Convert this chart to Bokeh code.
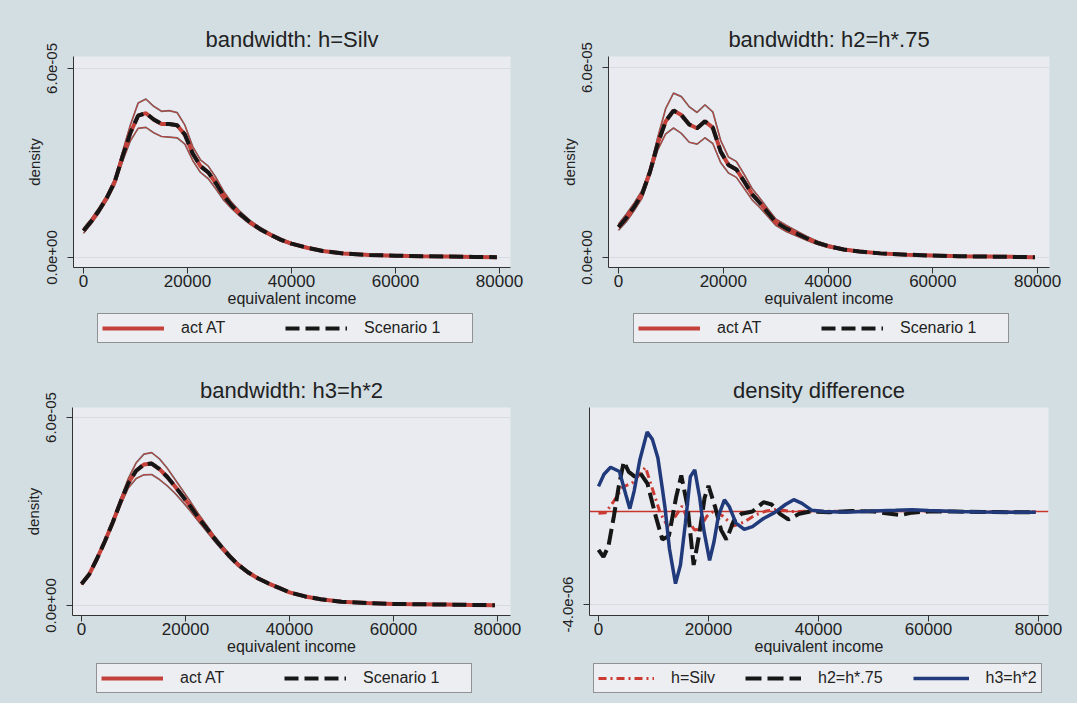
import numpy as np
from bokeh.plotting import figure
from bokeh.models import Range1d, FixedTicker, Legend, LegendItem
from bokeh.layouts import row, column
from bokeh.embed import file_html
from bokeh.resources import INLINE

# ---------------- data (densities in units of 1e-5, differences in 1e-6) ----------------
income = [0, 1500, 3000, 4500, 6000, 7500, 9000, 10500, 12000, 13500, 15000, 16500, 18000,
          19500, 21000, 22500, 24000, 25500, 27000, 28500, 30000, 32000, 34000, 36000, 38000,
          40000, 43000, 46000, 50000, 55000, 60000, 65000, 70000, 75000, 79500]

silv_act = [0.85, 1.15, 1.5, 1.9, 2.4, 3.2, 3.95, 4.5, 4.58, 4.38, 4.24, 4.24, 4.2, 3.9, 3.3, 2.9, 2.7,
            2.35, 1.95, 1.65, 1.4, 1.12, 0.9, 0.72, 0.56, 0.44, 0.31, 0.21, 0.13, 0.08, 0.06, 0.04, 0.03, 0.02, 0.01]
silv_scen = [0.85, 1.15, 1.5, 1.9, 2.4, 3.2, 3.95, 4.5, 4.58, 4.38, 4.24, 4.24, 4.2, 3.9, 3.3, 2.9, 2.7,
             2.35, 1.95, 1.65, 1.4, 1.12, 0.9, 0.72, 0.56, 0.44, 0.31, 0.21, 0.13, 0.08, 0.06, 0.04, 0.03, 0.02, 0.01]
silv_hi = [0.93, 1.23, 1.58, 1.98, 2.5, 3.35, 4.2, 4.9, 5.03, 4.8, 4.64, 4.66, 4.6, 4.2, 3.52, 3.1, 2.9,
           2.53, 2.09, 1.75, 1.48, 1.18, 0.95, 0.76, 0.6, 0.47, 0.33, 0.23, 0.14, 0.09, 0.07, 0.05, 0.04, 0.03, 0.02]
silv_lo = [0.77, 1.07, 1.42, 1.82, 2.3, 3.05, 3.7, 4.1, 4.13, 3.96, 3.84, 3.82, 3.8, 3.6, 3.08, 2.7, 2.5,
           2.17, 1.81, 1.55, 1.32, 1.06, 0.85, 0.68, 0.52, 0.41, 0.29, 0.19, 0.12, 0.07, 0.05, 0.03, 0.02, 0.01, 0.0]

h2_act = [0.96, 1.25, 1.6, 2.0, 2.7, 3.6, 4.3, 4.64, 4.5, 4.2, 4.08, 4.3, 4.1, 3.35, 2.92, 2.78, 2.4,
          2.0, 1.72, 1.42, 1.12, 0.92, 0.76, 0.6, 0.46, 0.36, 0.25, 0.19, 0.13, 0.09, 0.06, 0.04, 0.03, 0.02, 0.01]
h2_scen = [0.96, 1.25, 1.6, 2.0, 2.7, 3.6, 4.3, 4.64, 4.5, 4.2, 4.08, 4.3, 4.1, 3.35, 2.92, 2.78, 2.4,
           2.0, 1.72, 1.42, 1.12, 0.92, 0.76, 0.6, 0.46, 0.36, 0.25, 0.19, 0.13, 0.09, 0.06, 0.04, 0.03, 0.02, 0.01]
h2_hi = [1.06, 1.37, 1.72, 2.12, 2.8, 3.8, 4.7, 5.19, 5.08, 4.76, 4.58, 4.82, 4.6, 3.7, 3.17, 3.03, 2.62,
         2.18, 1.87, 1.54, 1.22, 1.02, 0.84, 0.66, 0.51, 0.4, 0.28, 0.21, 0.15, 0.1, 0.07, 0.05, 0.04, 0.03, 0.02]
h2_lo = [0.86, 1.13, 1.48, 1.88, 2.6, 3.4, 3.9, 4.09, 3.92, 3.64, 3.58, 3.78, 3.6, 3.0, 2.67, 2.53, 2.18,
         1.82, 1.57, 1.3, 1.02, 0.82, 0.68, 0.54, 0.41, 0.32, 0.22, 0.17, 0.11, 0.08, 0.05, 0.03, 0.02, 0.01, 0.0]

h3_act = [0.69, 1.0, 1.5, 2.05, 2.65, 3.3, 3.9, 4.3, 4.5, 4.53, 4.35, 4.1, 3.8, 3.48, 3.15, 2.8, 2.48,
          2.15, 1.85, 1.57, 1.32, 1.06, 0.86, 0.7, 0.56, 0.42, 0.29, 0.2, 0.12, 0.08, 0.05, 0.04, 0.03, 0.02, 0.01]
h3_scen = [0.69, 1.0, 1.5, 2.05, 2.65, 3.3, 3.9, 4.3, 4.5, 4.53, 4.35, 4.1, 3.8, 3.48, 3.15, 2.8, 2.48,
           2.15, 1.85, 1.57, 1.32, 1.06, 0.86, 0.7, 0.56, 0.42, 0.29, 0.2, 0.12, 0.08, 0.05, 0.04, 0.03, 0.02, 0.01]
h3_hi = [0.72, 1.03, 1.54, 2.1, 2.72, 3.4, 4.05, 4.55, 4.83, 4.88, 4.68, 4.38, 4.02, 3.66, 3.3, 2.92, 2.58,
         2.23, 1.92, 1.63, 1.37, 1.1, 0.89, 0.73, 0.58, 0.44, 0.31, 0.21, 0.13, 0.09, 0.06, 0.05, 0.04, 0.03, 0.02]
h3_lo = [0.66, 0.97, 1.46, 2.0, 2.58, 3.2, 3.75, 4.05, 4.17, 4.18, 4.02, 3.82, 3.58, 3.3, 3.0, 2.68, 2.38,
         2.07, 1.78, 1.51, 1.27, 1.02, 0.83, 0.67, 0.54, 0.4, 0.27, 0.19, 0.11, 0.07, 0.04, 0.03, 0.02, 0.01, 0.0]

diff_silv_x = [0, 1300, 2800, 4400, 6100, 7300, 8550, 9700, 11200, 12600, 14000, 15200, 16300, 17500,
               18300, 19700, 21000, 22600, 24600, 26500, 28500, 30500, 32500, 35000, 40000, 45000, 50000,
               55000, 60000, 65000, 70000, 75000, 79500]
diff_silv = [-0.08, -0.05, 0.45, 1.05, 1.22, 1.55, 1.9, 1.05, -0.05, -0.65, -0.2, 0.23, -0.4, -0.8,
             -0.75, -0.2, 0.03, -0.2, -0.62, -0.45, -0.15, 0.02, 0.1, 0.0, 0.02, 0.0, 0.02, 0.03, 0.02,
             0.0, -0.01, -0.02, -0.02]

diff_h2_x = [0, 900, 1800, 2800, 3700, 4600, 5500, 6600, 7600, 8900, 10400, 11600, 12800, 14100, 15050,
             16200, 17300, 18300, 19300, 20000, 21200, 22300, 23250, 24600, 26000, 28000, 30000, 31500,
             33000, 34500, 36500, 38500, 42000, 46000, 50000, 53000, 55000, 57000, 60000, 65000, 70000,
             75000, 79500]
diff_h2 = [-1.65, -1.95, -1.5, -0.2, 1.1, 2.14, 1.7, 1.5, 1.65, 1.2, -0.2, -1.2, -1.05, 0.6, 1.55, 0.2,
           -2.3, -1.0, 0.6, 1.1, 0.2, -0.8, -1.2, -0.4, -0.1, 0.0, 0.4, 0.3, -0.1, -0.34, -0.1, 0.0,
           -0.03, 0.02, 0.0, -0.1, -0.15, -0.05, 0.0, 0.0, -0.02, -0.03, -0.03]

diff_h3_x = [0, 1000, 2200, 3800, 5000, 5700, 6500, 7500, 8850, 9800, 10800, 11600, 12100, 12900, 14000,
             14900, 15800, 16700, 17500, 18400, 19150, 20200, 21000, 21800, 22900, 23800, 25000, 26500,
             28000, 30000, 32000, 34000, 35500, 37000, 38800, 41000, 45000, 50000, 54000, 57000, 60000,
             65000, 70000, 75000, 79500]
diff_h3 = [1.08, 1.6, 1.9, 1.72, 0.7, 0.12, 0.9, 2.2, 3.42, 3.1, 2.3, 1.0, 0.15, -1.6, -3.1, -2.3, -0.5,
           1.5, 1.79, 0.6, -0.8, -2.1, -1.3, -0.2, 0.5, 0.2, -0.5, -0.77, -0.65, -0.3, -0.05, 0.3, 0.51,
           0.35, 0.05, 0.0, -0.03, 0.02, 0.05, 0.08, 0.04, 0.0, -0.02, -0.03, -0.03]
zero_line = [0.0]

x_ticks = [0, 20000, 40000, 60000, 80000]
x_tick_labels = ["0", "20000", "40000", "60000", "80000"]
dens_ticks = [0.0, 6e-05]
dens_tick_labels = ["0.0e+00", "6.0e-05"]
diff_ticks = [-4e-06]
diff_tick_labels = ["-4.0e-06"]
dens_legend = ["act AT", "Scenario 1"]
diff_legend = ["h=Silv", "h2=h*.75", "h3=h*2"]

# ---------------- styling ----------------
FONT = "Liberation Sans"
TXT = "#222222"
BG = "#d3dee3"
PLOT_BG = "#e9ebf0"
LEG_BG = "#eceef1"
RED = "#c4403a"
BLACK = "#161616"
GRAY = "#5a5a5a"
BLUE = "#213a7c"
AXIS = "#333333"
ACT_STYLE = dict(line_color=RED, line_width=4)
SC_STYLE = dict(line_color=BLACK, line_width=4, line_dash="14 6")
SILV_STYLE = dict(line_color="#cc3b33", line_width=3, line_dash="8 4 2 4")
H2_STYLE = dict(line_color=BLACK, line_width=4, line_dash="16 6")
H3_STYLE = dict(line_color=BLUE, line_width=3.5)


def base_fig(width, height, xr, yr, title, borders, ticks, tick_labels, ylabel):
    left, right, top, bottom = borders
    p = figure(width=width, height=height, x_range=Range1d(*xr), y_range=Range1d(*yr),
               output_backend="svg", toolbar_location=None,
               min_border_left=left, min_border_right=right,
               min_border_top=top, min_border_bottom=bottom,
               background_fill_color=PLOT_BG, border_fill_color=BG,
               outline_line_color=None, title=title)
    t = p.title
    t.align = "center"
    t.text_font = FONT
    t.text_font_size = "22px"
    t.text_font_style = "normal"
    t.text_color = TXT

    xa = p.xaxis[0]
    xa.ticker = FixedTicker(ticks=x_ticks, minor_ticks=[])
    xa.major_label_overrides = dict(zip(x_ticks, x_tick_labels))
    xa.axis_label = "equivalent income"
    ya = p.yaxis[0]
    ya.ticker = FixedTicker(ticks=ticks, minor_ticks=[])
    ya.major_label_overrides = dict(zip(ticks, tick_labels))
    ya.major_label_orientation = "vertical"
    if ylabel:
        ya.axis_label = ylabel
    for ax in (xa, ya):
        ax.axis_line_color = AXIS
        ax.major_tick_line_color = AXIS
        ax.major_tick_out = 6
        ax.major_tick_in = 0
        ax.minor_tick_out = 0
        ax.minor_tick_in = 0
        ax.major_label_text_font = FONT
        ax.major_label_text_color = TXT
        ax.axis_label_text_font = FONT
        ax.axis_label_text_font_style = "normal"
        ax.axis_label_text_color = TXT
    xa.major_label_text_font_size = "17px"
    xa.axis_label_text_font_size = "16px"
    ya.major_label_text_font_size = "15px"
    ya.axis_label_text_font_size = "15px"
    xa.major_label_standoff = 1
    xa.axis_label_standoff = 0
    ya.major_label_standoff = 10
    ya.axis_label_standoff = 2
    p.xgrid.grid_line_color = None
    p.ygrid.ticker = FixedTicker(ticks=ticks)
    p.ygrid.grid_line_color = "#d6dae2"
    p.ygrid.grid_line_width = 1
    return p


def legend_fig(width, height, labels, styles, loc, padding, glyph_w, label_w, spacing):
    f = figure(width=width, height=height, x_range=Range1d(0, 1), y_range=Range1d(0, 1),
               output_backend="svg", toolbar_location=None, x_axis_type=None, y_axis_type=None,
               min_border_left=0, min_border_right=0, min_border_top=0, min_border_bottom=0,
               background_fill_color=BG, border_fill_color=BG, outline_line_color=None)
    items = []
    for lab, st in zip(labels, styles):
        # legend swatch only: a renderer holding a single missing value (nothing is drawn)
        r = f.line(x=[float("nan")], y=[float("nan")], **st)
        items.append(LegendItem(label=lab, renderers=[r]))
    leg = Legend(items=items, orientation="horizontal", location=loc, margin=0,
                 padding=padding, spacing=spacing, glyph_width=glyph_w, glyph_height=20,
                 label_standoff=17, label_width=label_w, label_height=20,
                 label_text_font=FONT, label_text_font_size="16px", label_text_color=TXT,
                 background_fill_color=LEG_BG, background_fill_alpha=1.0,
                 border_line_color="#333333", border_line_width=1)
    f.add_layout(leg)
    return f


def density_panel(width, height, xr, yr, title, borders, act, scen, hi, lo):
    p = base_fig(width, height, xr, yr, title, borders, dens_ticks, dens_tick_labels, "density")
    x = income
    for band in (hi, lo):
        yb = np.array(band) * 1e-5
        p.line(x, yb, line_color=GRAY, line_width=1.7, line_alpha=0.9)
        p.line(x, yb, line_color=RED, line_width=1.0)
    p.line(x, np.array(act) * 1e-5, **ACT_STYLE)
    p.line(x, np.array(scen) * 1e-5, **SC_STYLE)
    return p


p1 = density_panel(540, 313, (-1923, 82115), (-0.316e-5, 6.379e-5), "bandwidth: h=Silv",
                   (73, 30, 55, 46), silv_act, silv_scen, silv_hi, silv_lo)
l1 = legend_fig(540, 37, dens_legend, [ACT_STYLE, SC_STYLE], (97, 7), 4, 62, 104, 0)
p2 = density_panel(537, 313, (-1909, 82278), (-0.316e-5, 6.347e-5), "bandwidth: h2=h*.75",
                   (68, 28, 56, 46), h2_act, h2_scen, h2_hi, h2_lo)
l2 = legend_fig(537, 37, dens_legend, [ACT_STYLE, SC_STYLE], (93, 7), 4, 62, 104, 0)
p3 = density_panel(540, 313, (-1731, 82500), (-0.319e-5, 6.319e-5), "bandwidth: h3=h*2",
                   (72, 30, 57, 48), h3_act, h3_scen, h3_hi, h3_lo)
l3 = legend_fig(540, 40, dens_legend, [ACT_STYLE, SC_STYLE], (96, 10), 4, 62, 104, 0)

p4 = base_fig(537, 313, (-1636, 81818), (-4.47e-6, 4.47e-6), "density difference",
              (49, 29, 57, 46), diff_ticks, diff_tick_labels, None)
p4.hspan(y=zero_line, line_color="#c8352c", line_width=1.3)
p4.line(diff_silv_x, np.array(diff_silv) * 1e-6, **SILV_STYLE)
p4.line(diff_h2_x, np.array(diff_h2) * 1e-6, **H2_STYLE)
p4.line(diff_h3_x, np.array(diff_h3) * 1e-6, **H3_STYLE)
l4 = legend_fig(537, 40, diff_legend, [SILV_STYLE, H2_STYLE, H3_STYLE], (53, 10), 4, 56, 20, 30)

st = {"background-color": BG}
layout = column(row(p1, p2, styles=st), row(l1, l2, styles=st),
                row(p3, p4, styles=st), row(l3, l4, styles=st), styles=st)
open("out.html", "w").write(file_html(layout, INLINE))
